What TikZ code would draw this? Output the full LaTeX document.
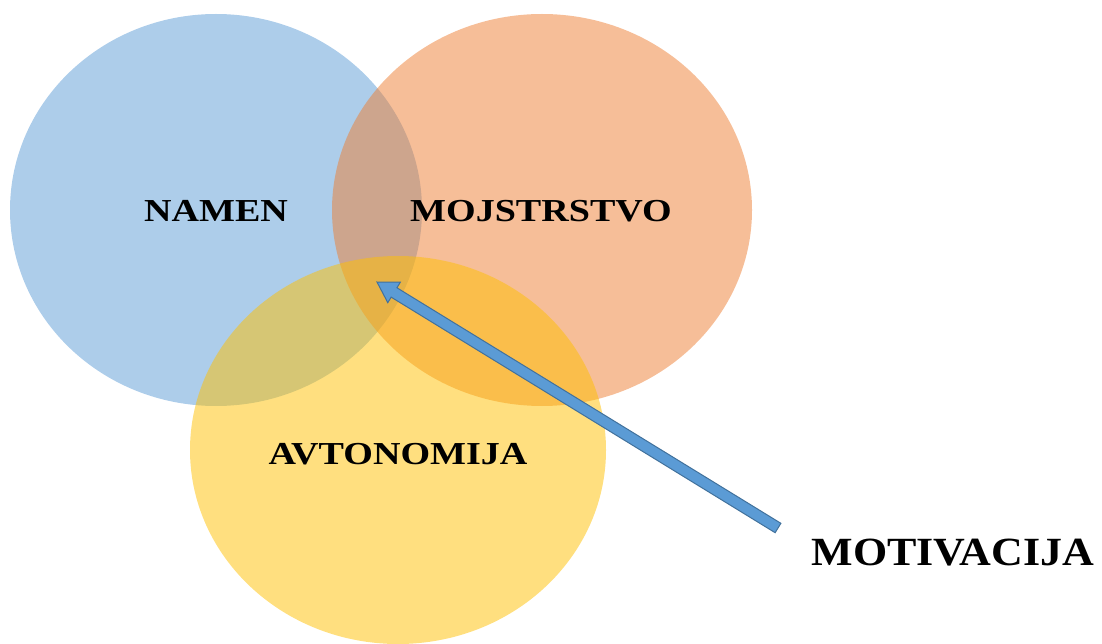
\documentclass[tikz,border=0pt]{standalone}
\usepackage{fontspec}
\setmainfont{Liberation Serif}
\usetikzlibrary{calc}
\definecolor{cblue}{HTML}{5B9BD5}
\definecolor{corange}{HTML}{ED7D31}
\definecolor{cyellow}{HTML}{FFC000}
\definecolor{cline}{HTML}{41719C}
\newcommand{\wlbl}[1]{\scalebox{1.19}[1]{\bfseries\fontsize{32}{34}\selectfont #1}}
\newcommand{\wbig}[1]{\scalebox{1.1}[1]{\bfseries\fontsize{40}{42}\selectfont #1}}
\tikzset{
  venn/.style={fill opacity=0.5, draw=none},
  lbl/.style={text=black, inner sep=0pt},
  arr/.style={fill=cblue, draw=cline, line width=1pt, line join=miter}
}
\begin{document}
\begin{tikzpicture}[x=1pt,y=-1pt]
\useasboundingbox (0,0) rectangle (1102,644);
\fill[venn, fill=cblue] (216,210) ellipse [x radius=206, y radius=196];
\fill[venn, fill=corange] (542,210) ellipse [x radius=210, y radius=196];
\fill[venn, fill=cyellow] (398,450) ellipse [x radius=208, y radius=194];
\node[lbl] (namen) at (216,211) {\wlbl{NAMEN}};
\node[lbl] (mojs) at (541,211) {\wlbl{MOJSTRSTVO}};
\node[lbl] (avto) at (398,454) {\wlbl{AVTONOMIJA}};
\node[lbl] (moti) at (953,553) {\wbig{MOTIVACIJA}};
\coordinate (tail) at (778,528);
\coordinate (tip) at (377,282);
\coordinate (hb) at ($(tip)!20pt!(tail)$);
\draw[arr] (tip)
  -- ($(hb)!12pt!90:(tip)$)
  -- ($(hb)!5.5pt!90:(tip)$)
  -- ($(tail)!5.5pt!90:(tip)$)
  -- ($(tail)!5.5pt!-90:(tip)$)
  -- ($(hb)!5.5pt!-90:(tip)$)
  -- ($(hb)!12pt!-90:(tip)$)
  -- cycle;
\end{tikzpicture}
\end{document}
